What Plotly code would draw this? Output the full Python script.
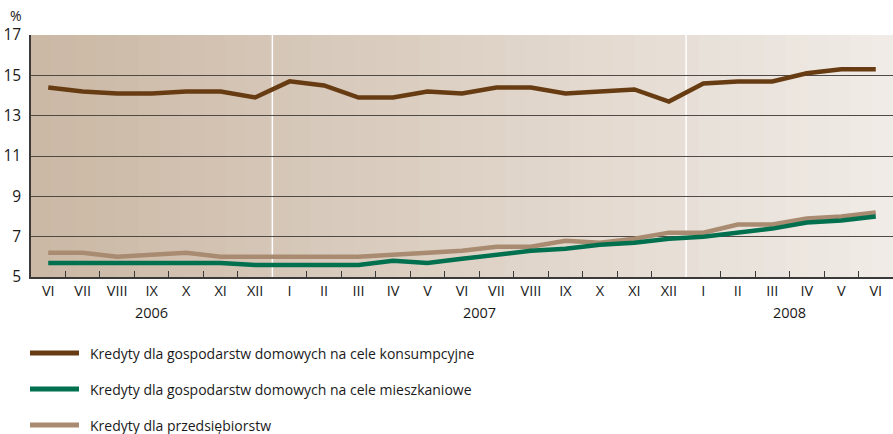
import plotly.graph_objects as go

months = ["VI","VII","VIII","IX","X","XI","XII",
          "I","II","III","IV","V","VI","VII","VIII","IX","X","XI","XII",
          "I","II","III","IV","V","VI"]
years = ["2006", "2007", "2008"]
year_centers = [3, 12.5, 21.5]
year_bounds = [6.5, 18.5]

konsumpcyjne = [14.4,14.2,14.1,14.1,14.2,14.2,13.9,
                14.7,14.5,13.9,13.9,14.2,14.1,14.4,14.4,14.1,14.2,14.3,13.7,
                14.6,14.7,14.7,15.1,15.3,15.3]
mieszkaniowe = [5.7,5.7,5.7,5.7,5.7,5.7,5.6,
                5.6,5.6,5.6,5.8,5.7,5.9,6.1,6.3,6.4,6.6,6.7,6.9,
                7.0,7.2,7.4,7.7,7.8,8.0]
przedsiebiorstwa = [6.2,6.2,6.0,6.1,6.2,6.0,6.0,
                    6.0,6.0,6.0,6.1,6.2,6.3,6.5,6.5,6.8,6.7,6.9,7.2,
                    7.2,7.6,7.6,7.9,8.0,8.2]

names = ["Kredyty dla gospodarstw domowych na cele konsumpcyjne",
         "Kredyty dla gospodarstw domowych na cele mieszkaniowe",
         "Kredyty dla przedsiębiorstw"]
colors = ["#683c12", "#00704e", "#a88b70"]
series = [konsumpcyjne, mieszkaniowe, przedsiebiorstwa]

x = list(range(len(months)))
fig = go.Figure()
# draw order: tan, green, brown on top
for idx in [2, 1, 0]:
    fig.add_trace(go.Scatter(x=x, y=series[idx], mode="lines", name=names[idx],
                             line=dict(color=colors[idx], width=4.5), showlegend=False,
                             cliponaxis=False))

# gradient background
c0 = (203, 184, 165)
c1 = (240, 235, 230)
N = 40
for i in range(N):
    t = i / (N - 1)
    c = tuple(round(c0[k] + (c1[k] - c0[k]) * t) for k in range(3))
    fig.add_shape(type="rect", xref="x domain", yref="y domain",
                  x0=i / N, x1=(i + 1) / N + 0.002, y0=0, y1=1,
                  fillcolor="rgb(%d,%d,%d)" % c, line=dict(width=0), layer="below")

for b in year_bounds:
    fig.add_shape(type="line", xref="x", yref="y domain", x0=b, x1=b, y0=0, y1=1,
                  line=dict(color="white", width=1.5), layer="below")

minor_ticks = [i + 0.5 for i in range(len(months) - 1) if (i + 0.5) not in year_bounds]

font = "Open Sans, Noto Sans, sans-serif"
fig.update_layout(
    width=893, height=434,
    margin=dict(l=31, r=0, t=35, b=157, autoexpand=False),
    paper_bgcolor="white", plot_bgcolor="rgba(0,0,0,0)",
    font=dict(family=font, color="#1a1a1a", size=14),
    showlegend=False,
    xaxis=dict(range=[-0.5, 24.5], tickmode="array", tickvals=x, ticktext=months,
               ticks="", showgrid=False, zeroline=False, automargin=False,
               showline=True, linecolor="#3a3a3a", linewidth=1.5,
               tickfont=dict(size=14.5),
               minor=dict(tickmode="array", tickvals=minor_ticks, ticks="inside",
                          ticklen=6, tickwidth=1.2, tickcolor="#3a3a3a", showgrid=False)),
    yaxis=dict(range=[5, 17], tickmode="linear", tick0=5, dtick=2, automargin=False,
               showgrid=True, gridcolor="#4f4a45", gridwidth=1.3, zeroline=False,
               showline=True, linecolor="#3a3a3a", linewidth=1.5, ticks="",
               tickfont=dict(size=15.5), ticklabelstandoff=5),
)

fig.add_annotation(text="%", xref="paper", yref="paper", x=-0.027, y=1.035,
                   xanchor="left", yanchor="bottom", showarrow=False,
                   font=dict(size=14))
for yr, cx in zip(years, year_centers):
    fig.add_annotation(text=yr, xref="x", yref="paper", x=cx, y=-0.1,
                       xanchor="center", yanchor="top", showarrow=False,
                       font=dict(size=14.5))

# manual legend
leg_y = [353, 389, 425]
H = 434
for idx in range(3):
    yp = 1 - (leg_y[idx] - 35) / (H - 35 - 157)
    fig.add_shape(type="line", xref="paper", yref="paper",
                  x0=(30 - 31) / 862, x1=(79 - 31) / 862, y0=yp, y1=yp,
                  line=dict(color=colors[idx], width=5))
    fig.add_annotation(text=names[idx], xref="paper", yref="paper",
                       x=(88 - 31) / 862, y=yp, xanchor="left", yanchor="middle",
                       showarrow=False, font=dict(size=14))

fig.write_html("out.html", config={"displayModeBar": False},
               post_script="document.body.style.margin='0';document.body.style.overflow='hidden';")
